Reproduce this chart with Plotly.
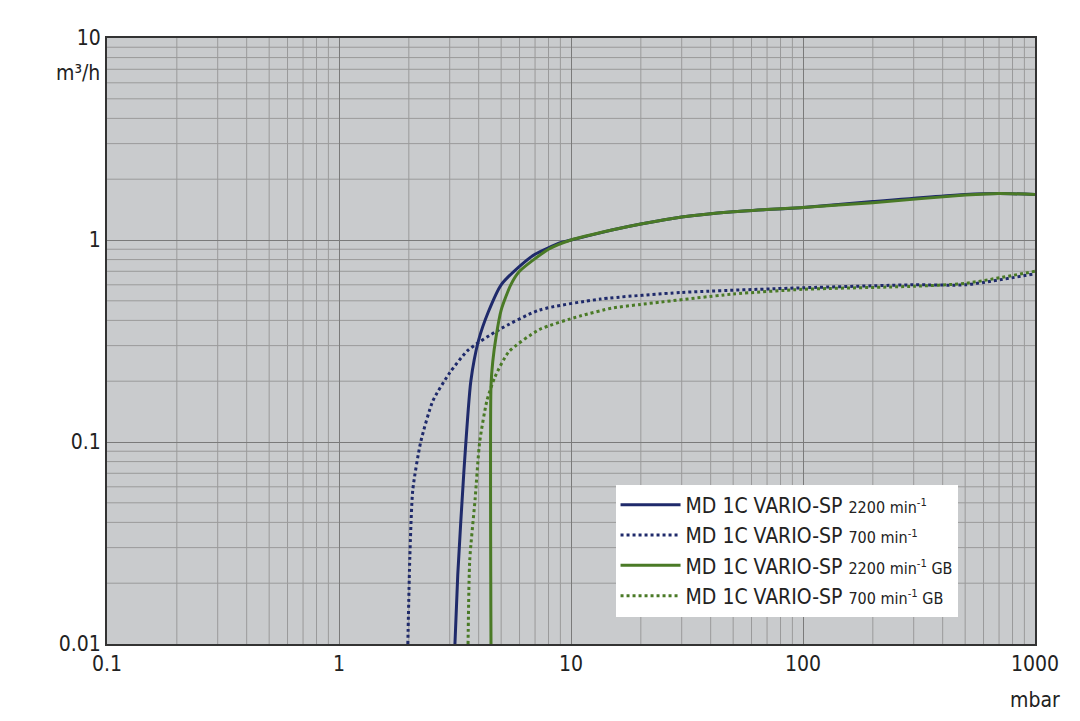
import plotly.graph_objects as go

blue_solid_x = [3.16, 3.25, 3.45, 3.7, 4.0, 4.4, 5.0, 6.0, 7.0, 9.0, 10, 15, 20, 30, 50, 100, 200, 500, 700, 1000]
blue_solid_y = [0.01, 0.022, 0.07, 0.2, 0.32, 0.44, 0.6, 0.74, 0.85, 0.97, 1.0, 1.12, 1.2, 1.3, 1.38, 1.45, 1.55, 1.68, 1.7, 1.68]
blue_dot_x = [1.98, 2.02, 2.08, 2.25, 2.54, 3.0, 3.6, 4.9, 7.3, 13.4, 30, 100, 300, 500, 1000]
blue_dot_y = [0.01, 0.027, 0.058, 0.10, 0.16, 0.22, 0.285, 0.36, 0.45, 0.51, 0.55, 0.58, 0.6, 0.6, 0.68]
green_solid_x = [4.52, 4.52, 4.6, 4.75, 5.0, 5.5, 6.0, 8.0, 10, 15, 20, 30, 50, 100, 200, 500, 700, 1000]
green_solid_y = [0.01, 0.19, 0.25, 0.33, 0.45, 0.6, 0.7, 0.9, 1.0, 1.12, 1.2, 1.3, 1.38, 1.45, 1.53, 1.67, 1.7, 1.68]
green_dot_x = [3.6, 3.66, 3.86, 4.04, 4.34, 4.7, 5.4, 7.3, 10.9, 15, 20, 50, 100, 300, 500, 1000]
green_dot_y = [0.01, 0.026, 0.052, 0.10, 0.16, 0.21, 0.28, 0.36, 0.42, 0.46, 0.48, 0.54, 0.57, 0.59, 0.61, 0.7]

x_ticks = [0.1, 1, 10, 100, 1000]
x_labels = ["0.1", "1", "10", "100", "1000"]
y_ticks = [0.01, 0.1, 1, 10]
y_labels = ["0.01", "0.1", "1", "10"]

BLUE = "#1f2a6b"
GREEN = "#4a7a26"
S = "<span style='font-size:16px'>"
names = [
    f"MD 1C VARIO-SP {S}2200 min<sup>-1</sup></span>",
    f"MD 1C VARIO-SP {S}700 min<sup>-1</sup></span>",
    f"MD 1C VARIO-SP {S}2200 min<sup>-1</sup> GB</span>",
    f"MD 1C VARIO-SP {S}700 min<sup>-1</sup> GB</span>",
]

fig = go.Figure()
for xs, ys, c, d, n in [
    (blue_solid_x, blue_solid_y, BLUE, "solid", names[0]),
    (blue_dot_x, blue_dot_y, BLUE, "dot", names[1]),
    (green_solid_x, green_solid_y, GREEN, "solid", names[2]),
    (green_dot_x, green_dot_y, GREEN, "dot", names[3]),
]:
    fig.add_trace(go.Scatter(x=xs, y=ys, mode="lines", name=n,
                             line=dict(color=c, width=3, dash=d, shape="spline", smoothing=0.6)))

shapes = []
for dec in [0.1, 1, 10, 100]:
    for m in range(2, 10):
        shapes.append(dict(type="line", xref="x", yref="paper", x0=dec*m, x1=dec*m, y0=0, y1=1,
                           line=dict(color="#9a9a9a", width=1), layer="below"))
for dec in [0.01, 0.1, 1]:
    for m in range(2, 10):
        shapes.append(dict(type="line", xref="paper", yref="y", y0=dec*m, y1=dec*m, x0=0, x1=1,
                           line=dict(color="#9a9a9a", width=1), layer="below"))

fig.update_layout(
    width=1080, height=721,
    margin=dict(l=99, r=53, t=30, b=85),
    paper_bgcolor="white", plot_bgcolor="#c9cbcd",
    font=dict(family="DejaVu Sans Condensed", size=21, color="#222"),
    shapes=shapes,
    legend=dict(x=0.548, y=0.263, xanchor="left", yanchor="top", bgcolor="white",
                font=dict(size=21), tracegroupgap=0, itemwidth=60),
    xaxis=dict(type="log", range=[-1, 3], tickvals=x_ticks, ticktext=x_labels,
               showgrid=True, gridcolor="#7a7a7a", gridwidth=1, showline=True, linecolor="#333",
               linewidth=2, mirror=True, ticks="", zeroline=False),
    yaxis=dict(type="log", range=[-2, 1], tickvals=y_ticks, ticktext=y_labels,
               showgrid=True, gridcolor="#7a7a7a", gridwidth=1, showline=True, linecolor="#333",
               linewidth=2, mirror=True, ticks="", zeroline=False),
    annotations=[
        dict(text="mbar", xref="paper", yref="paper", x=1.0, y=-0.07, xanchor="center",
             yanchor="top", showarrow=False, font=dict(size=21)),
        dict(text="m³/h", xref="paper", yref="paper", x=-0.005, y=0.965, xanchor="right",
             yanchor="top", showarrow=False, font=dict(size=21)),
    ],
)
fig.write_html("out.html")
